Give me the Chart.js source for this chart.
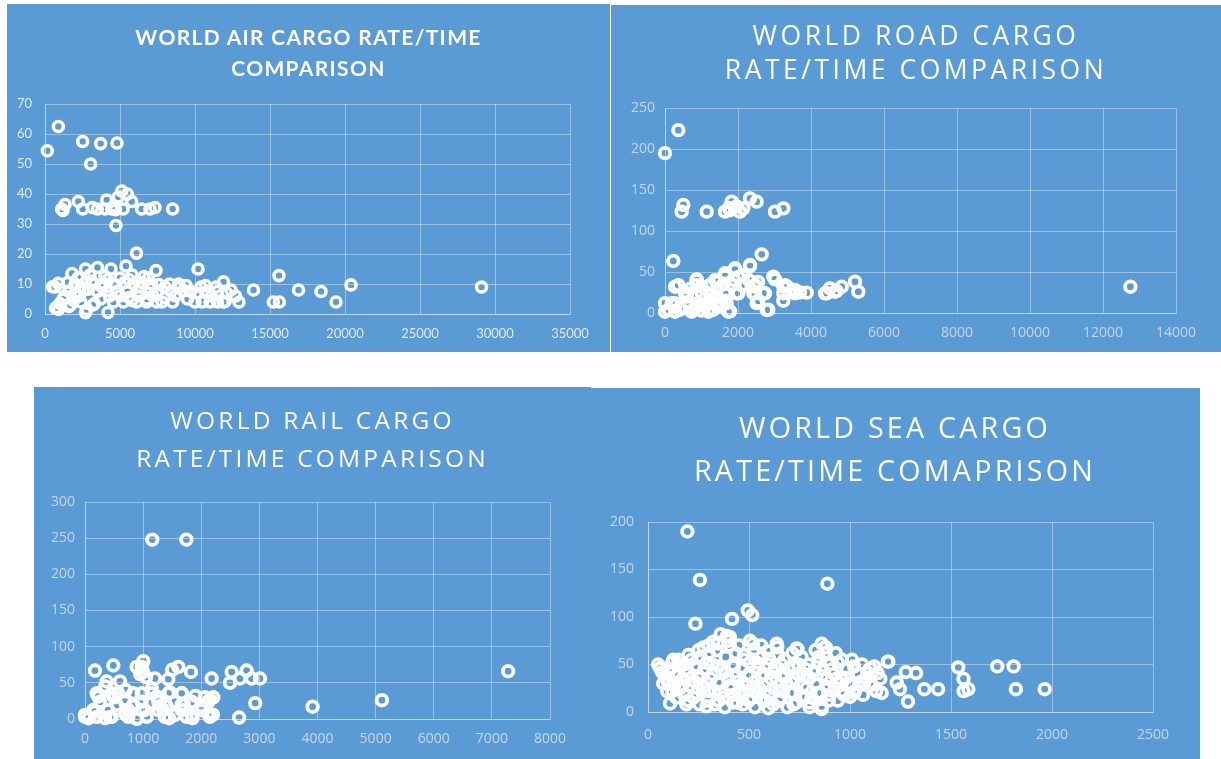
<!DOCTYPE html>
<html>
<head>
<meta charset="utf-8">
<script src="https://cdn.jsdelivr.net/npm/chart.js@4.4.1/dist/chart.umd.min.js"></script>
<style>
  html, body { margin: 0; padding: 0; background: #ffffff; }
  body { width: 1221px; height: 759px; position: relative; overflow: hidden; }
  .panel { position: absolute; background: #5b9bd5; }
  .panel canvas { position: absolute; left: 0; top: 0; }
  .title { position: absolute; left: 0; width: 100%; text-align: center; color: #ffffff; white-space: nowrap; }
  .t-air { font-family: Lato, "Open Sans", sans-serif; font-weight: 700; font-size: 21px; letter-spacing: 1.3px; line-height: 31px; }
  .t-soft { font-family: "Open Sans", "Noto Sans", sans-serif; font-weight: 400; }
</style>
</head>
<body>

<div class="panel" id="p-air" style="left:7px;top:4px;width:603px;height:348px;">
  <canvas id="c-air" width="603" height="348"></canvas>
  <div class="title t-air" style="top:17px;">WORLD AIR CARGO RATE/TIME<br>COMPARISON</div>
</div>

<div class="panel" id="p-road" style="left:611px;top:5px;width:610px;height:347px;">
  <canvas id="c-road" width="610" height="347"></canvas>
  <div class="title t-soft" style="top:13px;font-size:26.5px;line-height:34px;letter-spacing:3.5px;">WORLD ROAD CARGO<br>RATE/TIME COMPARISON</div>
</div>

<div class="panel" id="p-rail" style="left:34px;top:387px;width:557px;height:372px;">
  <canvas id="c-rail" width="557" height="372"></canvas>
  <div class="title t-soft" style="top:14px;font-size:24.5px;line-height:38px;letter-spacing:3.2px;">WORLD RAIL CARGO<br>RATE/TIME COMPARISON</div>
</div>

<div class="panel" id="p-sea" style="left:590px;top:388px;width:610px;height:371px;">
  <canvas id="c-sea" width="610" height="371"></canvas>
  <div class="title t-soft" style="top:17px;font-size:28.7px;line-height:43px;letter-spacing:3.2px;">WORLD SEA CARGO<br>RATE/TIME COMAPRISON</div>
</div>

<script>
// ---------- Air cargo: rate (x) vs time (y) ----------
const airRate = [
  155, 890, 2510, 3710, 4800, 3040,
  1111, 1333, 1200, 2222, 2511, 3156, 3489, 4111, 4000, 4444, 4600, 4889, 5111, 5489, 5778, 5200, 4700, 6444, 7000, 7333, 8511, 4733,
  4556, 5222, 6111, 6778, 7444, 8511, 10000, 11000, 11500, 11889, 12933, 15222, 15622, 19400, 5800, 7800, 10500, 12000, 3300, 2400, 1700, 1000,
  650, 1600, 2000, 2600, 2900, 3500, 4200, 4800, 5500, 6200, 6900, 7500, 8400, 9200, 9700, 10100, 10800, 11500, 12100, 12400, 13900, 16900, 18400,
  500, 890, 1500, 2000, 2700, 3300, 3900, 4600, 5300, 5900, 6500, 7100, 7600, 8300, 8900, 9400, 10400, 10700, 11400, 11900, 20400, 29100,
  1800, 2700, 3500, 4400, 5400, 5800, 6600, 7400, 2200, 3000, 4000, 5000, 6900, 10200, 15600, 6100,
  700, 900, 1600, 2700, 2800, 4200, 3200,
  1200, 1900, 2300, 3700, 4300, 5000, 5600, 6300, 6800, 7200, 8000, 8700, 9500,
  3100, 4200, 5600, 6300, 7000, 3800, 2400, 1300, 8000, 9000, 11100, 12700
];
const airTime = [
  54.4, 62.5, 57.5, 56.8, 57, 50,
  35, 36.5, 34.5, 37.5, 35, 35.5, 35, 38, 35, 35, 36, 39, 41, 40, 37.5, 35, 34.8, 35, 35, 35.5, 35, 29.5,
  4, 4, 4, 4, 4, 4, 4, 4, 4, 4, 4, 4, 4, 4, 4.5, 4, 4, 4.2, 3.5, 4, 3, 3.5,
  9, 7.5, 7, 8, 8.3, 7.5, 7.8, 7.5, 7.5, 7.5, 7, 7.5, 7.5, 7.8, 7.5, 7, 7.5, 7.5, 7, 8, 8, 8, 7.5,
  9.1, 10.2, 10.5, 10, 10.5, 10, 10.2, 10, 10.5, 10, 10.5, 10, 9.8, 10, 10, 9.5, 9, 9.5, 9, 10.7, 9.7, 9,
  13.5, 15, 15.5, 15, 16, 13, 12.5, 14.5, 12, 13, 12.5, 12, 12, 15, 12.8, 20.3,
  2, 1.5, 2.5, 0.4, 1.5, 0.5, 3,
  5, 4.5, 6, 5, 6, 6, 5.5, 6, 5, 6, 5.5, 6, 5,
  11, 11.5, 11.5, 9, 8.5, 9, 9, 6, 9, 9, 6, 6
];

// ---------- Road cargo ----------
const roadRate = [
  0, 365, 12750,
  502, 456, 1142, 1644, 1826, 2055, 2146, 2329, 2511, 3014, 3242, 1781, 1963, 1750,
  228, 2649, 2329, 1918, 1644, 2968, 868, 2146, 5206, 5297, 4840, 4430, 4520, 4700, 3882, 3700, 3562, 3350, 3242, 2786,
  548, 1005, 1233, 1644, 2009, 2466, 2740, 3242, 3562, 4384, 4658,
  365, 868, 1233, 1826, 2192, 2466, 3288, 1450, 700,
  2009, 1900, 2300, 2550,
  0, 183, 639, 913, 1416, 1690, 2511, 400, 1100,
  0, 274, 730, 1187, 1735, 1000, 1300, 1500,
  800, 1400, 1650, 1100, 600, 300, 100,
  274, 868, 1004, 1233, 1644, 1918, 2329, 2146, 1826, 2101, 2466, 3014, 3242, 3516,
  2831, 274, 595, 639, 868, 1324, 1781, 1553, 1096, 1279, 1689, 1963, 2420, 2557, 2694, 411, 1370, 1598
];
const roadTime = [
  195, 223, 32,
  131.7, 123.6, 123.6, 123.6, 135.8, 123.6, 127.6, 139.8, 135.8, 123.6, 127.6, 125.5, 130, 128,
  63.4, 71.5, 58.5, 54.5, 48.4, 44.3, 41, 46.4, 38.2, 26, 32, 24, 30, 27, 24.8, 25, 28, 32, 15, 3.7,
  24, 24, 24, 24, 24, 24, 24, 24, 24, 24, 26,
  34, 34, 34, 34, 34, 34, 34, 38, 30,
  44, 40, 40, 38,
  12, 12, 12, 12, 12, 12, 12, 6, 18,
  1.6, 1.6, 1.6, 1.6, 1.6, 3, 4, 8,
  5, 20, 15, 8, 20, 10, 4,
  32, 40, 32, 34, 45, 53, 57, 45, 35, 34, 32, 41, 32, 28,
  4, 12, 24, 14, 8, 4, 2, 11, 11, 24, 24, 24, 24, 15, 24, 4, 40, 35
];

// ---------- Rail cargo ----------
const railRate = [
  1158, 1744, 3916, 5108, 7280, 2929, 2652,
  1003, 487, 172, 1605, 1823, 889, 373, 602, 1204, 1433, 2179, 2523, 2780, 2494, 2666, 2867, 3010, 1000, 1500, 950, 1050,
  201, 573, 831, 1147, 1433, 1663, 2064, 2208,
  258, 688, 975, 1261, 1548, 1835, 2121,
  143, 401, 745, 1032, 1347, 1663, 2007, 2200,
  0, 201, 458, 745, 1061, 1376, 1749, 2150, 1850, 1450, 60, 900,
  350, 700, 1150, 1300, 1700, 500, 820, 1250, 1900,
  975, 229, 458, 688, 975, 1233, 1462, 1663, 2150,
  0, 172, 430, 688, 975, 1261, 1548, 1835, 2121, 544, 831, 1118, 1405, 1663, 2007, 344, 889
];
const railTime = [
  248, 248, 17, 26, 66, 22, 2,
  80, 74, 67, 72, 65, 72, 52, 52, 56, 55, 56, 65, 67, 50, 56, 56, 56, 65, 68, 62, 58,
  35.5, 35.5, 35.5, 35.5, 35.5, 35.5, 30, 30,
  24, 24, 24, 24, 24, 24, 24,
  12.4, 12.4, 12.4, 12.4, 12.4, 12.4, 12.4, 6,
  3, 3, 3, 3, 3, 3, 3, 3, 1, 1, 1, 1,
  45, 40, 42, 18, 20, 30, 18, 30, 32,
  72, 31, 35.5, 26.7, 35.5, 31, 37, 35.5, 27,
  5.6, 10, 3, 7.8, 12.4, 12.4, 5.6, 5.6, 7.8, 19.8, 19.8, 21.9, 17.7, 19.8, 17.7, 1.3, 0
];

// ---------- Sea cargo ----------
const seaRate = [
  195, 257, 888, 235, 416, 494, 516, 360, 450,
  150, 200, 250, 300, 350, 400, 520, 560, 640, 740, 860, 880, 930, 323, 405, 637, 736, 876,
  50, 60, 120, 180, 240, 290, 350, 420, 480, 540, 600, 660, 720, 780, 840, 900, 960, 1020, 1060, 1100, 1190,
  80, 140, 200, 260, 320, 380, 440, 500, 560, 620, 680, 740, 800, 860, 920, 980, 1040, 1080,
  100, 170, 230, 290, 350, 410, 470, 530, 590, 650, 710, 770, 830, 890, 950, 1010, 1070, 1137, 1077,
  120, 180, 240, 300, 360, 420, 480, 540, 600, 660, 720, 780, 840, 900, 960, 1020, 1157, 1000,
  109, 200, 290, 350, 420, 500, 560, 596, 650, 720, 800, 860, 940,
  1187, 1231, 1247, 1276, 1287, 1327, 1368, 1436, 1536, 1562, 1562, 1586, 1729, 1810, 1821, 1964,
  70, 90, 110, 130, 150, 95, 140, 75, 160, 125,
  170, 185, 205, 215, 225, 245, 260, 270, 280, 295, 300, 310, 190, 230, 255, 275, 160,
  320, 330, 340, 355, 365, 375, 385, 395, 405, 415, 425, 435, 445, 455, 330, 380, 440, 390, 345,
  465, 475, 485, 495, 505, 515, 525, 535, 545, 555, 565, 575, 585, 595, 470, 530, 590, 505,
  610, 620, 630, 645, 655, 665, 675, 685, 695, 705, 715, 725, 735, 745, 620, 690, 760,
  770, 785, 795, 810, 820, 835, 845, 855, 865, 875, 885, 895, 800, 860, 830,
  910, 925, 940, 955, 970, 985, 995, 1010, 1025, 1040, 1055, 1065, 1085, 1100, 1120, 1130, 1150
];
const seaTime = [
  190, 139, 135, 93, 98, 107, 102, 82, 70,
  55, 60, 65, 70, 73, 75, 72, 70, 68, 66, 72, 68, 62, 74, 79, 72, 67, 68,
  50, 46, 52, 50, 47, 52, 48, 50, 55, 52, 56, 50, 48, 45, 52, 50, 55, 48, 50, 46, 53,
  40, 38, 42, 36, 40, 42, 38, 40, 38, 42, 38, 40, 36, 38, 40, 36, 40, 36,
  30, 28, 32, 30, 32, 28, 30, 26, 30, 28, 32, 28, 30, 26, 30, 28, 30, 41, 35,
  22, 18, 20, 22, 20, 18, 22, 20, 18, 22, 20, 16, 20, 18, 22, 20, 20, 16,
  9, 12, 6, 12, 10, 12, 14, 4, 12, 8, 10, 6, 12,
  53, 31, 24, 42, 11, 41, 24, 24, 47, 35, 22, 24, 48, 48, 24, 24,
  42, 35, 45, 28, 40, 22, 15, 30, 50, 55,
  35, 45, 28, 55, 15, 38, 58, 25, 45, 12, 62, 35, 8, 48, 8, 68, 25,
  50, 22, 65, 30, 45, 15, 58, 35, 70, 25, 48, 62, 32, 18, 8, 5, 10, 80, 72,
  45, 60, 28, 38, 52, 15, 66, 33, 46, 24, 58, 40, 12, 50, 8, 5, 64, 75,
  35, 25, 48, 60, 15, 40, 55, 30, 45, 20, 62, 35, 10, 50, 8, 5, 58,
  38, 25, 50, 15, 42, 30, 58, 20, 45, 62, 35, 12, 5, 3, 65,
  45, 25, 52, 35, 18, 45, 30, 55, 22, 40, 32, 18, 42, 28, 48, 22, 35
];

// ---------- Axis tick settings ----------
const airXTicks = { max: 35000, step: 5000 };
const airYTicks = { max: 70, step: 10 };
const roadXTicks = { max: 14000, step: 2000 };
const roadYTicks = { max: 250, step: 50 };
const railXTicks = { max: 8000, step: 1000 };
const railYTicks = { max: 300, step: 50 };
const seaXTicks = { max: 2500, step: 500 };
const seaYTicks = { max: 200, step: 50 };

function toPoints(xs, ys) {
  return xs.map((x, i) => ({ x: x, y: ys[i] }));
}

// plain integer labels, no thousands separator
const plainLabel = (v) => String(v);

function scatter(id, xs, ys, xt, yt, box, look) {
  const grid = { color: 'rgba(255,255,255,0.38)', lineWidth: 1, drawTicks: false };
  const border = { display: true, color: 'rgba(255,255,255,0.38)', width: 1 };
  new Chart(document.getElementById(id), {
    type: 'scatter',
    data: {
      datasets: [{
        data: toPoints(xs, ys),
        pointStyle: 'circle',
        pointRadius: look.radius,
        pointHoverRadius: look.radius,
        pointBorderWidth: look.border,
        pointBorderColor: '#ffffff',
        pointBackgroundColor: 'rgba(0,0,0,0)',
        clip: false
      }]
    },
    options: {
      responsive: false,
      animation: false,
      events: [],
      layout: { padding: { left: 0, top: box.top, right: box.right, bottom: 0 } },
      plugins: { legend: { display: false }, tooltip: { enabled: false }, title: { display: false } },
      scales: {
        x: {
          type: 'linear', min: 0, max: xt.max,
          grid: grid, border: border,
          ticks: { stepSize: xt.step, color: look.tickColor, font: look.font, padding: look.xPad, maxRotation: 0, autoSkip: false, callback: plainLabel },
          afterFit: (s) => { s.height = box.xh; }
        },
        y: {
          type: 'linear', min: 0, max: yt.max,
          grid: grid, border: border,
          ticks: { stepSize: yt.step, color: look.tickColor, font: look.font, padding: look.yPad, autoSkip: false, callback: plainLabel },
          afterFit: (s) => { s.width = box.yw; }
        }
      }
    }
  });
}

// thick white rings with an open centre
const sharpLook = {
  font: { family: 'Lato, "Open Sans", sans-serif', size: 13 },
  tickColor: 'rgba(235,242,250,0.9)', radius: 5, border: 3.6, xPad: 12, yPad: 13
};
const softLook = {
  font: { family: '"Open Sans", sans-serif', size: 14 },
  tickColor: 'rgba(222,230,240,0.78)', radius: 5.3, border: 3.8, xPad: 12, yPad: 10
};

scatter('c-air', airRate, airTime, airXTicks, airYTicks, { top: 100, right: 40, xh: 38, yw: 38 }, sharpLook);
scatter('c-road', roadRate, roadTime, roadXTicks, roadYTicks, { top: 103, right: 45, xh: 39, yw: 54 }, softLook);
scatter('c-rail', railRate, railTime, railXTicks, railYTicks, { top: 115, right: 41, xh: 40, yw: 51 }, softLook);
scatter('c-sea', seaRate, seaTime, seaXTicks, seaYTicks, { top: 134, right: 47, xh: 47, yw: 58 }, Object.assign({}, softLook, { xPad: 15, yPad: 14 }));
</script>
</body>
</html>
